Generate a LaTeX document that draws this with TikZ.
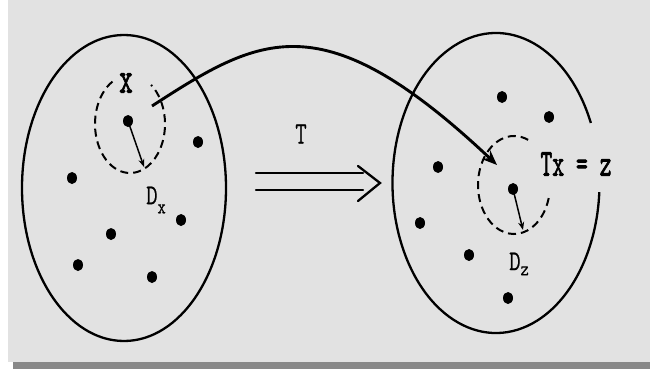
\documentclass[tikz,border=0pt]{standalone}
\usepackage{fontspec}
\usepackage{graphicx}
\newfontfamily\lblfont{Latin Modern Mono}[FakeBold=0.6]
\newfontfamily\lblbf{Latin Modern Mono}[FakeBold=2.2]
\usetikzlibrary{arrows.meta,shapes.geometric}
\newcommand\tallbox[2][1.5]{\scalebox{1}[#1]{#2}}
\definecolor{bgc}{HTML}{E2E2E2}
\definecolor{barc}{HTML}{888888}
\begin{document}
\begin{tikzpicture}[x=1pt,y=1pt,
  outline/.style={line width=2.3pt, black},
  dashring/.style={line width=2pt, dash pattern=on 8pt off 5pt, black},
  dot/.style={ellipse, fill=black, inner sep=0pt, minimum width=10pt, minimum height=12pt},
  lbl/.style={font=\lblfont\fontsize{22}{22}\selectfont, inner sep=0pt, text=black},
  bigarrow/.style={line width=2.9pt, -{Stealth[length=15pt,width=12pt]}},
  smallarrow/.style={line width=1.5pt, -{Stealth[length=8pt,width=6pt]}},
  dbl/.style={line width=2.3pt, line cap=round}
]
% background
\fill[white] (0,0) rectangle (650,-369);
\fill[bgc] (8,0) rectangle (650,-362);
\fill[barc] (13,-362) rectangle (650,-369);
\useasboundingbox (0,0) rectangle (650,-369);

% big sets
\coordinate (L) at (124,-188);
\draw[outline] (L) ellipse [x radius=102pt, y radius=153pt];
\coordinate (R) at (496,-183);
\draw[outline] ([shift={(23.6:103.5pt and 150pt)}]R) arc[start angle=23.6, end angle=356.5, x radius=103.5pt, y radius=150pt];

% dashed neighbourhoods
\coordinate (LD) at (130,-124);
\draw[dashring] ([shift={(120:35pt and 49pt)}]LD) arc[start angle=120, end angle=413, x radius=35pt, y radius=49pt];
\coordinate (RD) at (514,-185);
\draw[dashring] ([shift={(67:36pt and 49pt)}]RD) arc[start angle=67, end angle=348, x radius=36pt, y radius=49pt];

% dots left
\node[dot] (lc) at (128,-121) {};
\node[dot] (l1) at (198,-142) {};
\node[dot] (l2) at (72,-178) {};
\node[dot] (l3) at (181,-220) {};
\node[dot] (l4) at (111,-234) {};
\node[dot] (l5) at (78,-265) {};
\node[dot] (l6) at (152,-277) {};
% dots right
\node[dot] (rc) at (513,-189) {};
\node[dot] (r1) at (502,-97) {};
\node[dot] (r2) at (549,-117) {};
\node[dot] (r3) at (438,-167) {};
\node[dot] (r4) at (420,-223) {};
\node[dot] (r5) at (469,-255) {};
\node[dot] (r6) at (508,-298) {};

% radius arrows
\coordinate (lt) at (144,-167);
\draw[smallarrow] (lc.center) -- (lt);
\coordinate (rt) at (523,-230);
\draw[smallarrow] (rc.center) -- (rt);

% big curved arrow
\coordinate (cs) at (152,-106);
\coordinate (c1) at (260,-36);
\coordinate (c2) at (322,0);
\coordinate (ce) at (497,-165);
\draw[bigarrow] (cs) .. controls (c1) and (c2) .. (ce);

% double arrow
\coordinate (a1s) at (256,-173);
\coordinate (a1e) at (363,-173);
\coordinate (a2s) at (256,-190);
\coordinate (a2e) at (363,-190);
\coordinate (ha) at (358,-166);
\coordinate (ht) at (380,-183);
\coordinate (hb) at (358,-201);
\draw[dbl] (a1s) -- (a1e);
\draw[dbl] (a2s) -- (a2e);
\draw[dbl, line join=miter] (ha) -- (ht) -- (hb);

% labels
\node[lbl, fill=bgc, inner sep=1pt] (xl) at (126,-83) {\tallbox[1.7]{\fontsize{26}{26}\lblbf x}};
\node[lbl] (tl) at (301,-134) {\tallbox[1.45]{T}};
\node[lbl] (txz) at (576,-164) {\tallbox[1.65]{\fontsize{23}{23}\lblbf Tx = z}};
\node[lbl] (dx) at (156,-200) {\tallbox[1.3]{D\raisebox{-7pt}{\fontsize{16}{16}\selectfont x}}};
\node[lbl] (dz) at (519,-264) {\tallbox[1.3]{D\raisebox{-4pt}{\fontsize{16}{16}\selectfont z}}};
\end{tikzpicture}
\end{document}
